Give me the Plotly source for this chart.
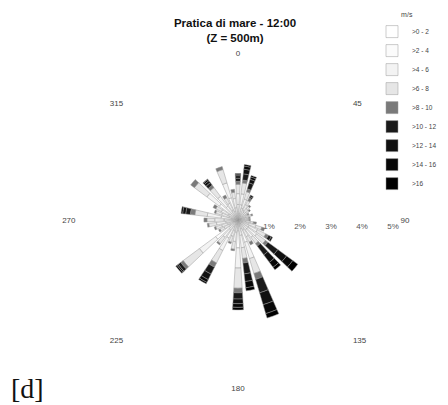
import plotly.graph_objects as go

directions = [0, 10, 20, 30, 40, 50, 60, 70, 80, 90, 100, 110, 120, 130, 140, 150, 160, 170,
              180, 190, 200, 210, 220, 230, 240, 250, 260, 270, 280, 290, 300, 310, 320, 330, 340, 350]

speed_bins = [">0 - 2", ">2 - 4", ">4 - 6", ">6 - 8", ">8 - 10", ">10 - 12", ">12 - 14", ">14 - 16", ">16"]

# frequency (%) per direction for each speed class
f_0_2 = [0.2, 0.2, 0.15, 0.15, 0.15, 0.1, 0.1, 0.1, 0.1, 0.1, 0.1, 0.15, 0.15, 0.15, 0.15, 0.15, 0.3, 0.2,
         0.35, 0.15, 0.15, 0.25, 0.15, 0.35, 0.1, 0.15, 0.15, 0.2, 0.2, 0.1, 0.15, 0.3, 0.2, 0.15, 0.3, 0.15]
f_2_4 = [0.3, 0.3, 0.25, 0.2, 0.15, 0.15, 0.1, 0.15, 0.1, 0.1, 0.15, 0.2, 0.25, 0.25, 0.25, 0.2, 0.45, 0.3,
         0.55, 0.25, 0.2, 0.4, 0.25, 0.55, 0.2, 0.2, 0.25, 0.25, 0.35, 0.2, 0.2, 0.45, 0.35, 0.2, 0.45, 0.25]
f_4_6 = [0.35, 0.35, 0.3, 0.2, 0.15, 0.1, 0.1, 0.1, 0.1, 0.1, 0.15, 0.25, 0.3, 0.35, 0.3, 0.25, 0.55, 0.4,
         0.65, 0.3, 0.2, 0.45, 0.3, 0.65, 0.2, 0.2, 0.3, 0.3, 0.45, 0.25, 0.25, 0.5, 0.4, 0.25, 0.5, 0.3]
f_6_8 = [0.3, 0.35, 0.25, 0.15, 0.1, 0.1, 0.05, 0.1, 0.05, 0.05, 0.1, 0.2, 0.3, 0.35, 0.25, 0.2, 0.5, 0.35,
         0.65, 0.25, 0.2, 0.45, 0.25, 0.65, 0.15, 0.2, 0.25, 0.25, 0.4, 0.2, 0.2, 0.5, 0.35, 0.2, 0.45, 0.2]
f_8_10 = [0.1, 0.1, 0.1, 0.1, 0.05, 0.05, 0.05, 0.05, 0.05, 0.05, 0.1, 0.1, 0.1, 0.1, 0.1, 0.1, 0.2, 0.15,
          0.15, 0.05, 0.05, 0.15, 0.05, 0.1, 0.05, 0.05, 0.05, 0.1, 0.15, 0.05, 0.1, 0.15, 0.1, 0.1, 0.1, 0.1]
f_10_12 = [0.1, 0.2, 0.2, 0.05, 0, 0, 0, 0, 0, 0, 0, 0, 0.1, 0.4, 0.35, 0, 0.45, 0.35,
           0.2, 0, 0, 0.25, 0, 0.1, 0, 0, 0, 0, 0.15, 0, 0, 0, 0.1, 0, 0, 0]
f_12_14 = [0.08, 0.15, 0.12, 0.05, 0, 0, 0, 0, 0, 0, 0, 0, 0.05, 0.35, 0.3, 0, 0.4, 0.25,
           0.15, 0, 0, 0.2, 0, 0.05, 0, 0, 0, 0, 0.1, 0, 0, 0, 0.08, 0, 0, 0]
f_14_16 = [0.05, 0.1, 0.08, 0, 0, 0, 0, 0, 0, 0, 0, 0, 0, 0.25, 0.2, 0, 0.3, 0.2,
           0.12, 0, 0, 0.1, 0, 0.05, 0, 0, 0, 0, 0.05, 0, 0, 0, 0.05, 0, 0, 0]
f_16 = [0.02, 0.05, 0.05, 0, 0, 0, 0, 0, 0, 0, 0, 0, 0, 0.2, 0.1, 0, 0.15, 0.1,
        0.08, 0, 0, 0.05, 0, 0, 0, 0, 0, 0, 0, 0, 0, 0, 0.02, 0, 0, 0]

series = [f_0_2, f_2_4, f_4_6, f_6_8, f_8_10, f_10_12, f_12_14, f_14_16, f_16]
colors = ["#ffffff", "#fbfbfb", "#f3f3f3", "#e6e6e6", "#7a7a7a", "#1a1a1a", "#111111", "#080808", "#000000"]

angle_ticks = [0, 45, 90, 135, 180, 225, 270, 315]
angle_labels = ["0", "45", "90", "135", "180", "225", "270", "315"]
radial_ticks = [1, 2, 3, 4, 5]
radial_labels = ["1%", "2%", "3%", "4%", "5%"]

fig = go.Figure()
for name, vals, col in zip(speed_bins, series, colors):
    fig.add_trace(go.Barpolar(
        r=vals, theta=directions, width=[7] * len(directions), name=name,
        marker=dict(color=col, line=dict(color="#9a9a9a", width=0.5)),
    ))

W, H = 448, 405
OFF = 8  # page offset of the plot div
cx, cy, R = 238 - OFF, 220 - OFF, 162

fig.update_layout(
    width=W, height=H,
    margin=dict(l=0, r=0, t=0, b=0),
    paper_bgcolor="white", plot_bgcolor="white",
    font=dict(family="Liberation Sans, Arial, sans-serif", size=8, color="#444"),
    title=dict(text="<b>Pratica di mare - 12:00</b><br><b>(Z = 500m)</b>",
               x=(235 - OFF) / W, xanchor="center", y=1 - 19 / H, yanchor="top",
               font=dict(size=11.5, color="#111")),
    polar=dict(
        domain=dict(x=[(cx - R) / W, (cx + R) / W], y=[(H - cy - R) / H, (H - cy + R) / H]),
        bgcolor="white",
        barmode="stack",
        angularaxis=dict(rotation=90, direction="clockwise", tickvals=angle_ticks,
                         ticktext=angle_labels, showgrid=False, showline=False, ticks="",
                         tickfont=dict(size=8, color="#444")),
        radialaxis=dict(range=[0, R / 31], tickvals=radial_ticks, ticktext=radial_labels, angle=0,
                        side="clockwise", showgrid=False, showline=False, ticks="",
                        tickfont=dict(size=8, color="#555")),
    ),
    legend=dict(x=(372 - OFF) / W, y=1.0, xanchor="left", yanchor="top",
                title=dict(text="m/s", side="top center", font=dict(size=7, color="#444")),
                font=dict(size=6.5, color="#444"), bgcolor="rgba(0,0,0,0)",
                itemwidth=30, tracegroupgap=0),
    annotations=[dict(text="[d]", xref="paper", yref="paper", x=1 / W, y=(H - 380) / H,
                      xanchor="left", yanchor="middle", showarrow=False,
                      font=dict(family="Liberation Serif, Times New Roman, serif", size=28,
                                color="#111"))],
)

fig.write_html("out.html")
